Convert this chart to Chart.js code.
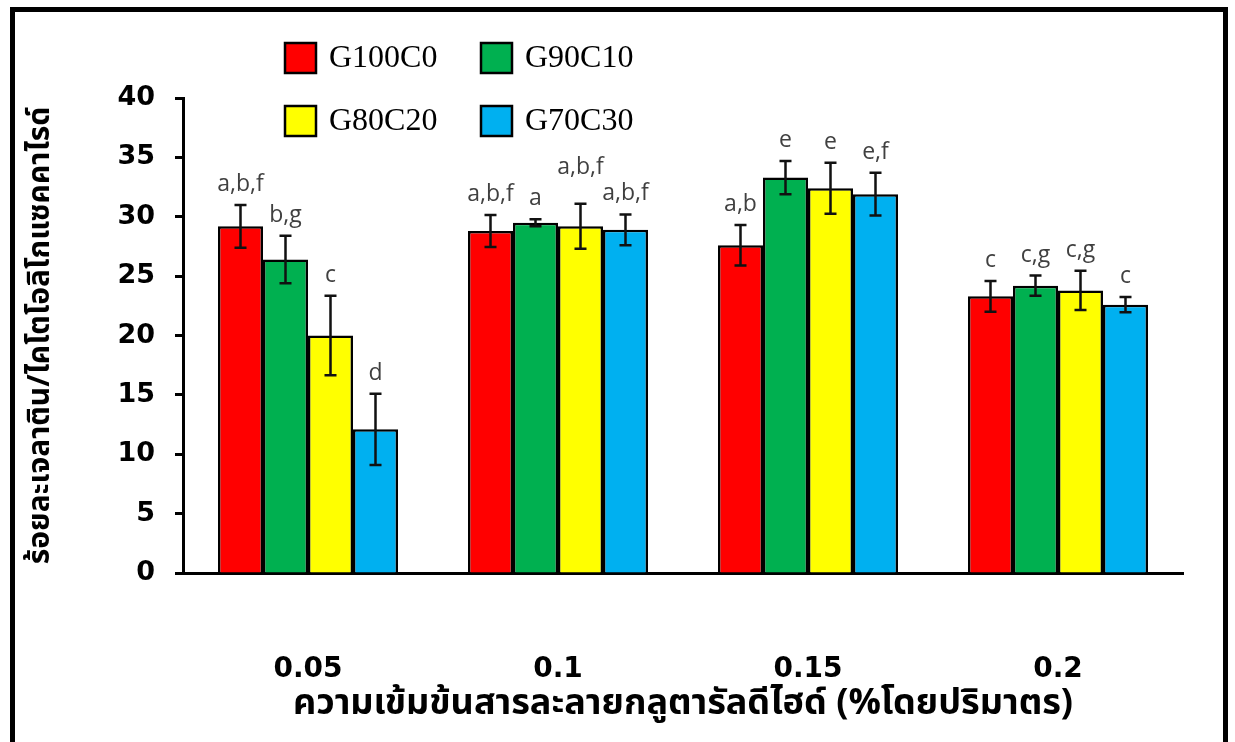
<!DOCTYPE html>
<html>
<head>
<meta charset="utf-8">
<script src="https://cdn.jsdelivr.net/npm/chart.js@4.4.1/dist/chart.umd.min.js"></script>
<style>
  body { margin: 0; background: #fff; overflow: hidden; }
  #wrap { position: relative; width: 1235px; height: 742px; }
  #chart { position: absolute; left: 0; top: 0; }
  #frame {
    position: absolute; left: 10px; top: 7px; width: 1218px; height: 760px;
    border: 5px solid #000; box-sizing: border-box; pointer-events: none;
  }
</style>
</head>
<body>
<div id="wrap">
  <canvas id="chart" width="1235" height="742"></canvas>
  <div id="frame"></div>
</div>
<script>
// Data
const categories = ["0.05", "0.1", "0.15", "0.2"];
const seriesNames = ["G100C0", "G90C10", "G80C20", "G70C30"];
const seriesColors = ["#ff0000", "#00b050", "#ffff00", "#00b0f0"];

const g100c0 = [29.2, 28.8, 27.6, 23.3];
const g90c10 = [26.4, 29.5, 33.3, 24.2];
const g80c20 = [20.0, 29.2, 32.4, 23.8];
const g70c30 = [12.1, 28.9, 31.9, 22.6];

const g100c0Err = [1.8, 1.35, 1.7, 1.3];
const g90c10Err = [2.0, 0.3, 1.4, 0.85];
const g80c20Err = [3.35, 1.9, 2.15, 1.65];
const g70c30Err = [3.0, 1.3, 1.8, 0.65];

const g100c0Letters = ["a,b,f", "a,b,f", "a,b", "c"];
const g90c10Letters = ["b,g", "a", "e", "c,g"];
const g80c20Letters = ["c", "a,b,f", "e", "c,g"];
const g70c30Letters = ["d", "a,b,f", "e,f", "c"];

const yTickLabels = [0, 5, 10, 15, 20, 25, 30, 35, 40];

const yTitle = "ร้อยละเจลาติน/ไคโตโอลิโกแซคคาไรด์";
const xTitle = "ความเข้มข้นสารละลายกลูตารัลดีไฮด์ (%โดยปริมาตร)";

const allValues = [g100c0, g90c10, g80c20, g70c30];
const allErrors = [g100c0Err, g90c10Err, g80c20Err, g70c30Err];
const allLetters = [g100c0Letters, g90c10Letters, g80c20Letters, g70c30Letters];

const thaiFont = "'Noto Sans Thai', 'Loma', 'Garuda', 'Norasi', 'DejaVu Sans', sans-serif";

// Error bars + significance letters
const errorBarPlugin = {
  id: "errorBars",
  afterDatasetsDraw(chart) {
    const ctx = chart.ctx;
    const y = chart.scales.y;
    const nSets = chart.data.datasets.length;
    ctx.save();
    ctx.font = "23px 'Open Sans', sans-serif";

    categories.forEach((cat, j) => {
      let prev = null;
      // right to left so a crowded label gets lifted above its right neighbour
      for (let i = nSets - 1; i >= 0; i--) {
        const bar = chart.getDatasetMeta(i).data[j];
        const v = allValues[i][j];
        const e = allErrors[i][j];
        const top = y.getPixelForValue(v + e);
        const bot = y.getPixelForValue(v - e);
        const x = bar.x;

        ctx.strokeStyle = "#111";
        ctx.lineWidth = 2.5;
        ctx.beginPath();
        ctx.moveTo(x, top); ctx.lineTo(x, bot);
        ctx.moveTo(x - 6, top); ctx.lineTo(x + 6, top);
        ctx.moveTo(x - 6, bot); ctx.lineTo(x + 6, bot);
        ctx.stroke();

        const text = allLetters[i][j];
        const w = ctx.measureText(text).width;
        let base = top - 14;
        if (prev && x + w / 2 > prev.left - 2 && Math.abs(base - prev.base) < 24) {
          base = prev.base - 26;
        }
        ctx.fillStyle = "#404040";
        ctx.textAlign = "center";
        ctx.textBaseline = "alphabetic";
        ctx.fillText(text, x, base);
        prev = { left: x - w / 2, base: base };
      }
    });
    ctx.restore();
  }
};

// 2x2 legend inside the frame
const legendPlugin = {
  id: "gridLegend",
  afterDraw(chart) {
    const ctx = chart.ctx;
    const colX = [285, 481];
    const rowY = [58, 121];
    ctx.save();
    chart.data.datasets.forEach((ds, i) => {
      const bx = colX[i % 2];
      const cy = rowY[Math.floor(i / 2)];
      ctx.fillStyle = ds.backgroundColor;
      ctx.fillRect(bx, cy - 15, 31, 30);
      ctx.strokeStyle = "#000";
      ctx.lineWidth = 2.5;
      ctx.strokeRect(bx, cy - 15, 31, 30);
      ctx.fillStyle = "#000";
      ctx.font = "32px 'Liberation Serif', 'Times New Roman', serif";
      ctx.textAlign = "left";
      ctx.textBaseline = "middle";
      ctx.fillText(ds.label, bx + 44, cy + 1);
    });
    ctx.restore();
  }
};

const ctx = document.getElementById("chart").getContext("2d");

new Chart(ctx, {
  type: "bar",
  data: {
    labels: categories,
    datasets: seriesNames.map((name, i) => ({
      label: name,
      data: allValues[i],
      backgroundColor: seriesColors[i],
      borderColor: "#000",
      borderWidth: 2.5,
      categoryPercentage: 0.72,
      barPercentage: 1.0
    }))
  },
  options: {
    responsive: false,
    animation: false,
    layout: { padding: { left: 0, top: 98, right: 52, bottom: 0 } },
    plugins: {
      legend: { display: false },
      tooltip: { enabled: false }
    },
    scales: {
      x: {
        grid: { display: false },
        border: { display: true, color: "#000", width: 3 },
        ticks: {
          color: "#000",
          padding: 72,
          font: { family: "'DejaVu Sans', sans-serif", size: 28, weight: "bold" }
        },
        title: {
          display: true,
          text: xTitle,
          color: "#000",
          font: { family: thaiFont, size: 36, weight: "bold" },
          padding: { top: 0, bottom: 14 }
        },
        afterFit(scale) { scale.height = 169; }
      },
      y: {
        min: 0,
        max: 40,
        grid: {
          drawOnChartArea: false,
          drawTicks: true,
          tickLength: 8,
          tickWidth: 3,
          tickColor: "#000"
        },
        border: { display: true, color: "#000", width: 3 },
        ticks: {
          stepSize: 2.5,
          color: "#000",
          padding: 20,
          font: { family: "'DejaVu Sans', sans-serif", size: 27, weight: "bold" },
          callback: (v) => yTickLabels.includes(v) ? v : ""
        },
        title: {
          display: true,
          text: yTitle,
          color: "#000",
          font: { family: thaiFont, size: 30, weight: "bold" },
          padding: { top: 25, bottom: 0 }
        },
        afterFit(scale) { scale.width = 183; }
      }
    }
  },
  plugins: [errorBarPlugin, legendPlugin]
});
</script>
</body>
</html>
